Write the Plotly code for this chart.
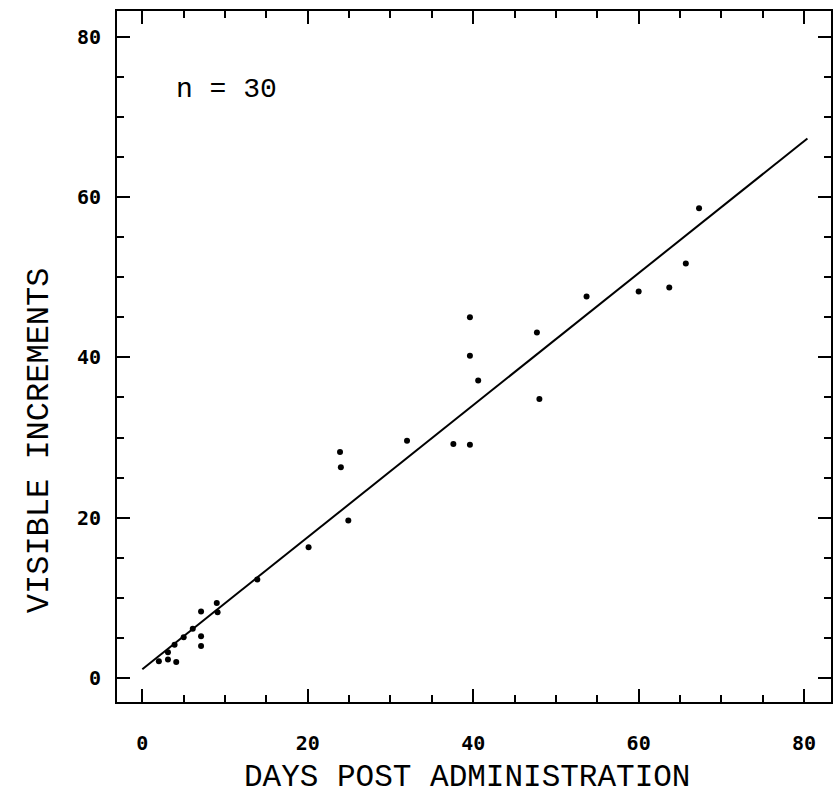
import plotly.graph_objects as go

# Data
days = [2.0, 3.1, 3.1, 4.1, 3.9, 5.0, 6.1, 7.1, 7.1, 7.1, 9.0, 9.1, 13.9,
        20.1, 24.9, 23.9, 24.0, 32.0, 37.6, 39.6, 39.6, 39.6, 40.6,
        47.7, 48.0, 53.7, 60.0, 63.7, 65.7, 67.3]
increments = [2.1, 2.3, 3.2, 2.0, 4.15, 5.1, 6.15, 8.3, 5.2, 4.0, 9.35, 8.2, 12.3,
              16.3, 19.65, 28.2, 26.3, 29.6, 29.2, 29.1, 45.0, 40.2, 37.1,
              43.1, 34.8, 47.6, 48.2, 48.7, 51.7, 58.6]

fit_x = [0.0, 80.4]
fit_y = [1.1, 67.3]

tick_vals = [0, 20, 40, 60, 80]
tick_text = ["<b>0</b>", "<b>20</b>", "<b>40</b>", "<b>60</b>", "<b>80</b>"]

x_title = "DAYS POST ADMINISTRATION"
y_title = "VISIBLE INCREMENTS"
n_label = "n = 30"

fig = go.Figure()
fig.add_trace(go.Scatter(x=fit_x, y=fit_y, mode="lines",
                         line=dict(color="black", width=2), showlegend=False))
fig.add_trace(go.Scatter(x=days, y=increments, mode="markers",
                         marker=dict(color="black", size=6), showlegend=False))

tick_font = dict(family="DejaVu Sans Mono", size=20, color="black")
axis_common = dict(
    showgrid=False, zeroline=False,
    showline=True, linecolor="black", linewidth=2, mirror="ticks",
    ticks="inside", ticklen=13, tickwidth=2, tickcolor="black",
    tickvals=tick_vals, ticktext=tick_text, tickfont=tick_font,
    minor=dict(dtick=5, tick0=0, ticks="inside", ticklen=7, tickwidth=2, tickcolor="black"),
)

fig.update_layout(
    width=834, height=795,
    margin=dict(l=117, r=1, t=11, b=93),
    paper_bgcolor="white", plot_bgcolor="white",
    xaxis=dict(range=[-3.06, 83.25], ticklabelstandoff=22, **axis_common),
    yaxis=dict(range=[-2.99, 83.2], ticklabelstandoff=10, **axis_common),
    annotations=[
        dict(text=x_title, xref="paper", yref="paper", x=(468 - 117) / 716, y=-(777 - 702) / 691,
             xanchor="center", yanchor="middle", showarrow=False,
             font=dict(family="Liberation Mono", size=31, color="black")),
        dict(text=y_title, xref="paper", yref="paper", x=-(117 - 40) / 716, y=(702 - 440) / 691,
             xanchor="center", yanchor="middle", showarrow=False, textangle=-90,
             font=dict(family="Liberation Mono", size=32, color="black")),
        dict(text=n_label, xref="x", yref="y", x=3.8, y=73.4,
             xanchor="left", yanchor="middle", showarrow=False,
             font=dict(family="Liberation Mono", size=28, color="black")),
    ],
)

fig.write_html("out.html")
